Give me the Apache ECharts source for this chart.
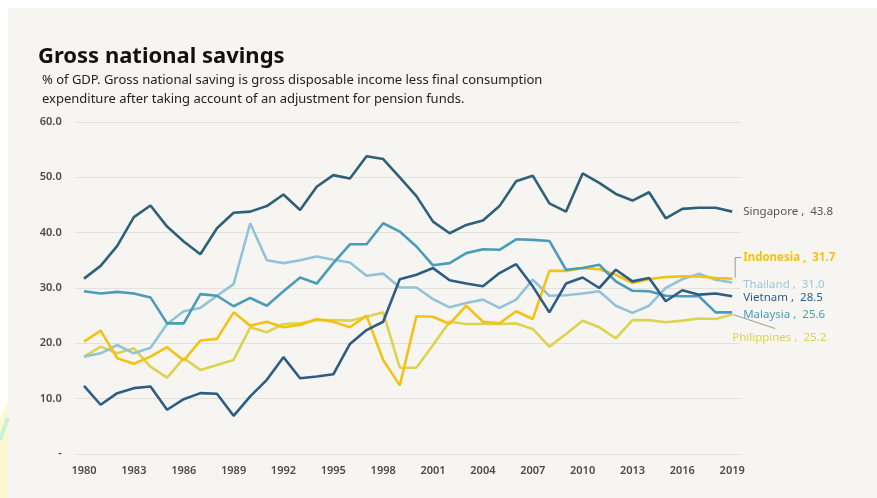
<!DOCTYPE html>
<html><head><meta charset="utf-8">
<script src="https://cdn.jsdelivr.net/npm/echarts@6/dist/echarts.min.js"></script>
<style>html,body{margin:0;padding:0;background:#fff}#c{width:877px;height:498px}</style>
</head><body><div id="c"></div>
<script>
var years = [];
for (var y = 1980; y <= 2019; y++) years.push(String(y));
var singapore = [31.7,34.0,37.6,42.8,44.9,41.1,38.4,36.1,40.8,43.6,43.8,44.8,46.9,44.1,48.3,50.4,49.8,53.8,53.3,50.0,46.6,42.0,39.9,41.4,42.2,44.8,49.3,50.3,45.3,43.8,50.7,49.0,47.0,45.8,47.3,42.6,44.3,44.5,44.5,43.8];
var indonesia = [20.3,22.3,17.3,16.3,17.6,19.3,16.9,20.5,20.8,25.6,23.2,23.9,22.9,23.3,24.4,23.9,22.9,25.0,17.0,12.4,24.9,24.8,23.5,26.8,23.9,23.6,25.8,24.4,33.1,33.1,33.6,33.4,32.4,30.9,31.6,32.0,32.1,32.1,31.8,31.7];
var thailand = [17.6,18.2,19.7,18.2,19.2,23.5,25.8,26.4,28.6,30.7,41.7,35.0,34.5,35.0,35.7,35.1,34.6,32.2,32.6,30.1,30.1,28.0,26.5,27.3,27.9,26.4,27.9,31.5,28.6,28.7,29.0,29.4,26.8,25.5,26.8,30.0,31.6,32.6,31.5,31.0];
var vietnam = [12.3,8.9,11.0,11.9,12.2,8.0,9.9,11.0,10.9,6.9,10.4,13.4,17.5,13.7,14.0,14.4,19.9,22.4,23.9,31.6,32.4,33.6,31.4,30.8,30.3,32.7,34.3,30.3,25.6,30.8,31.9,30.0,33.3,31.2,31.8,27.6,29.6,28.8,29.0,28.5];
var malaysia = [29.4,29.0,29.3,29.0,28.3,23.6,23.6,28.9,28.6,26.7,28.2,26.8,29.4,31.9,30.8,34.5,37.9,37.9,41.7,40.2,37.5,34.1,34.5,36.3,37.0,36.9,38.8,38.7,38.5,33.3,33.6,34.2,31.2,29.5,29.4,28.6,28.5,28.5,25.6,25.6];
var philippines = [17.6,19.4,18.2,19.1,15.8,13.8,17.3,15.2,16.1,17.0,22.9,22.0,23.5,23.6,24.2,24.2,24.1,24.8,25.6,15.6,15.6,19.7,23.9,23.5,23.5,23.5,23.6,22.6,19.4,21.7,24.1,22.9,20.9,24.2,24.2,23.8,24.1,24.5,24.4,25.2];

var FONT = "'Noto Sans', 'Open Sans', sans-serif";
function mk(name, data, color, lblColor, weight, off) {
  return {
    name: name, type: 'line', data: data, symbol: 'none', smooth: false,
    lineStyle: { color: color, width: 2.6 },
    itemStyle: { color: color },
    endLabel: {
      show: true, distance: 11, offset: off,
      color: lblColor, fontSize: 11.5, fontWeight: weight, fontFamily: FONT,
      formatter: function (p) { return p.seriesName + ' ,  ' + Number(p.value).toFixed(1); }
    },
    emphasis: { disabled: true }
  };
}
var chart = echarts.init(document.getElementById('c'));
var option = {
  backgroundColor: '#ffffff',
  animation: false,
  title: [
    { text: 'Gross national savings', left: 33, top: 41,
      textStyle: { fontSize: 22, fontWeight: 'bold', color: '#111', fontFamily: FONT } },
    { text: '% of GDP. Gross national saving is gross disposable income less final consumption\nexpenditure after taking account of an adjustment for pension funds.',
      left: 37, top: 66,
      textStyle: { fontSize: 13, fontWeight: 'normal', color: '#222', lineHeight: 19, fontFamily: FONT } }
  ],
  grid: { left: 75.7, right: 136.5, top: 122, bottom: 44, containLabel: false },
  xAxis: {
    type: 'category', data: years, boundaryGap: true,
    axisLine: { show: false }, axisTick: { show: false },
    axisLabel: { interval: 2, color: '#4a4a4a', fontSize: 11, fontWeight: 600, margin: 11, fontFamily: FONT },
    splitLine: { show: false }
  },
  yAxis: {
    type: 'value', min: 0, max: 60, interval: 10,
    axisLine: { show: false }, axisTick: { show: false },
    axisLabel: { color: '#4a4a4a', fontSize: 11, fontWeight: 600, margin: 14, fontFamily: FONT,
      formatter: function (v) { return v === 0 ? '-' : v.toFixed(1); } },
    splitLine: { lineStyle: { color: '#e3e1dd', width: 1 } }
  },
  series: [
    mk('Philippines', philippines, '#dcd44e', '#dcd44e', 'normal', [-11, 23]),
    mk('Thailand', thailand, '#93c3d7', '#9cc7da', 'normal', [0, 2]),
    mk('Indonesia', indonesia, '#f3c215', '#f3c215', 'bold', [0, -21]),
    mk('Malaysia', malaysia, '#4a9cb8', '#4a9cb8', 'normal', [0, 2]),
    mk('Vietnam', vietnam, '#2c5d85', '#2c5d85', 'normal', [0, 1]),
    mk('Singapore', singapore, '#2f6176', '#555555', 'normal', [0, 0])
  ]
};
chart.setOption(option);

var last = years[years.length - 1];
var pI = chart.convertToPixel({ gridIndex: 0 }, [last, indonesia[indonesia.length - 1]]);
var pP = chart.convertToPixel({ gridIndex: 0 }, [last, philippines[philippines.length - 1]]);
chart.setOption({
  graphic: [
    { type: 'rect', z: -10, shape: { x: 8, y: 8, width: 869, height: 490 }, style: { fill: '#f6f5f2' } },
    { type: 'polygon', z: -10, shape: { points: [[0, 420], [8, 400], [8, 498], [0, 498]] }, style: { fill: '#fbf8cf' } },
    { type: 'polyline', z: -9, shape: { points: [[0, 440], [8, 418]] }, style: { stroke: '#c9f1de', lineWidth: 4 } },
    { type: 'polyline', z: 5, shape: { points: [[pI[0] + 3, pI[1] - 1], [pI[0] + 3, pI[1] - 21], [pI[0] + 9, pI[1] - 21]] },
      style: { stroke: '#9a9a9a', lineWidth: 1, fill: null } },
    { type: 'line', z: 5, shape: { x1: pP[0] + 1, y1: pP[1], x2: pP[0] + 43, y2: pP[1] + 14 },
      style: { stroke: '#9a9a9a', lineWidth: 1 } }
  ]
});
</script></body></html>
